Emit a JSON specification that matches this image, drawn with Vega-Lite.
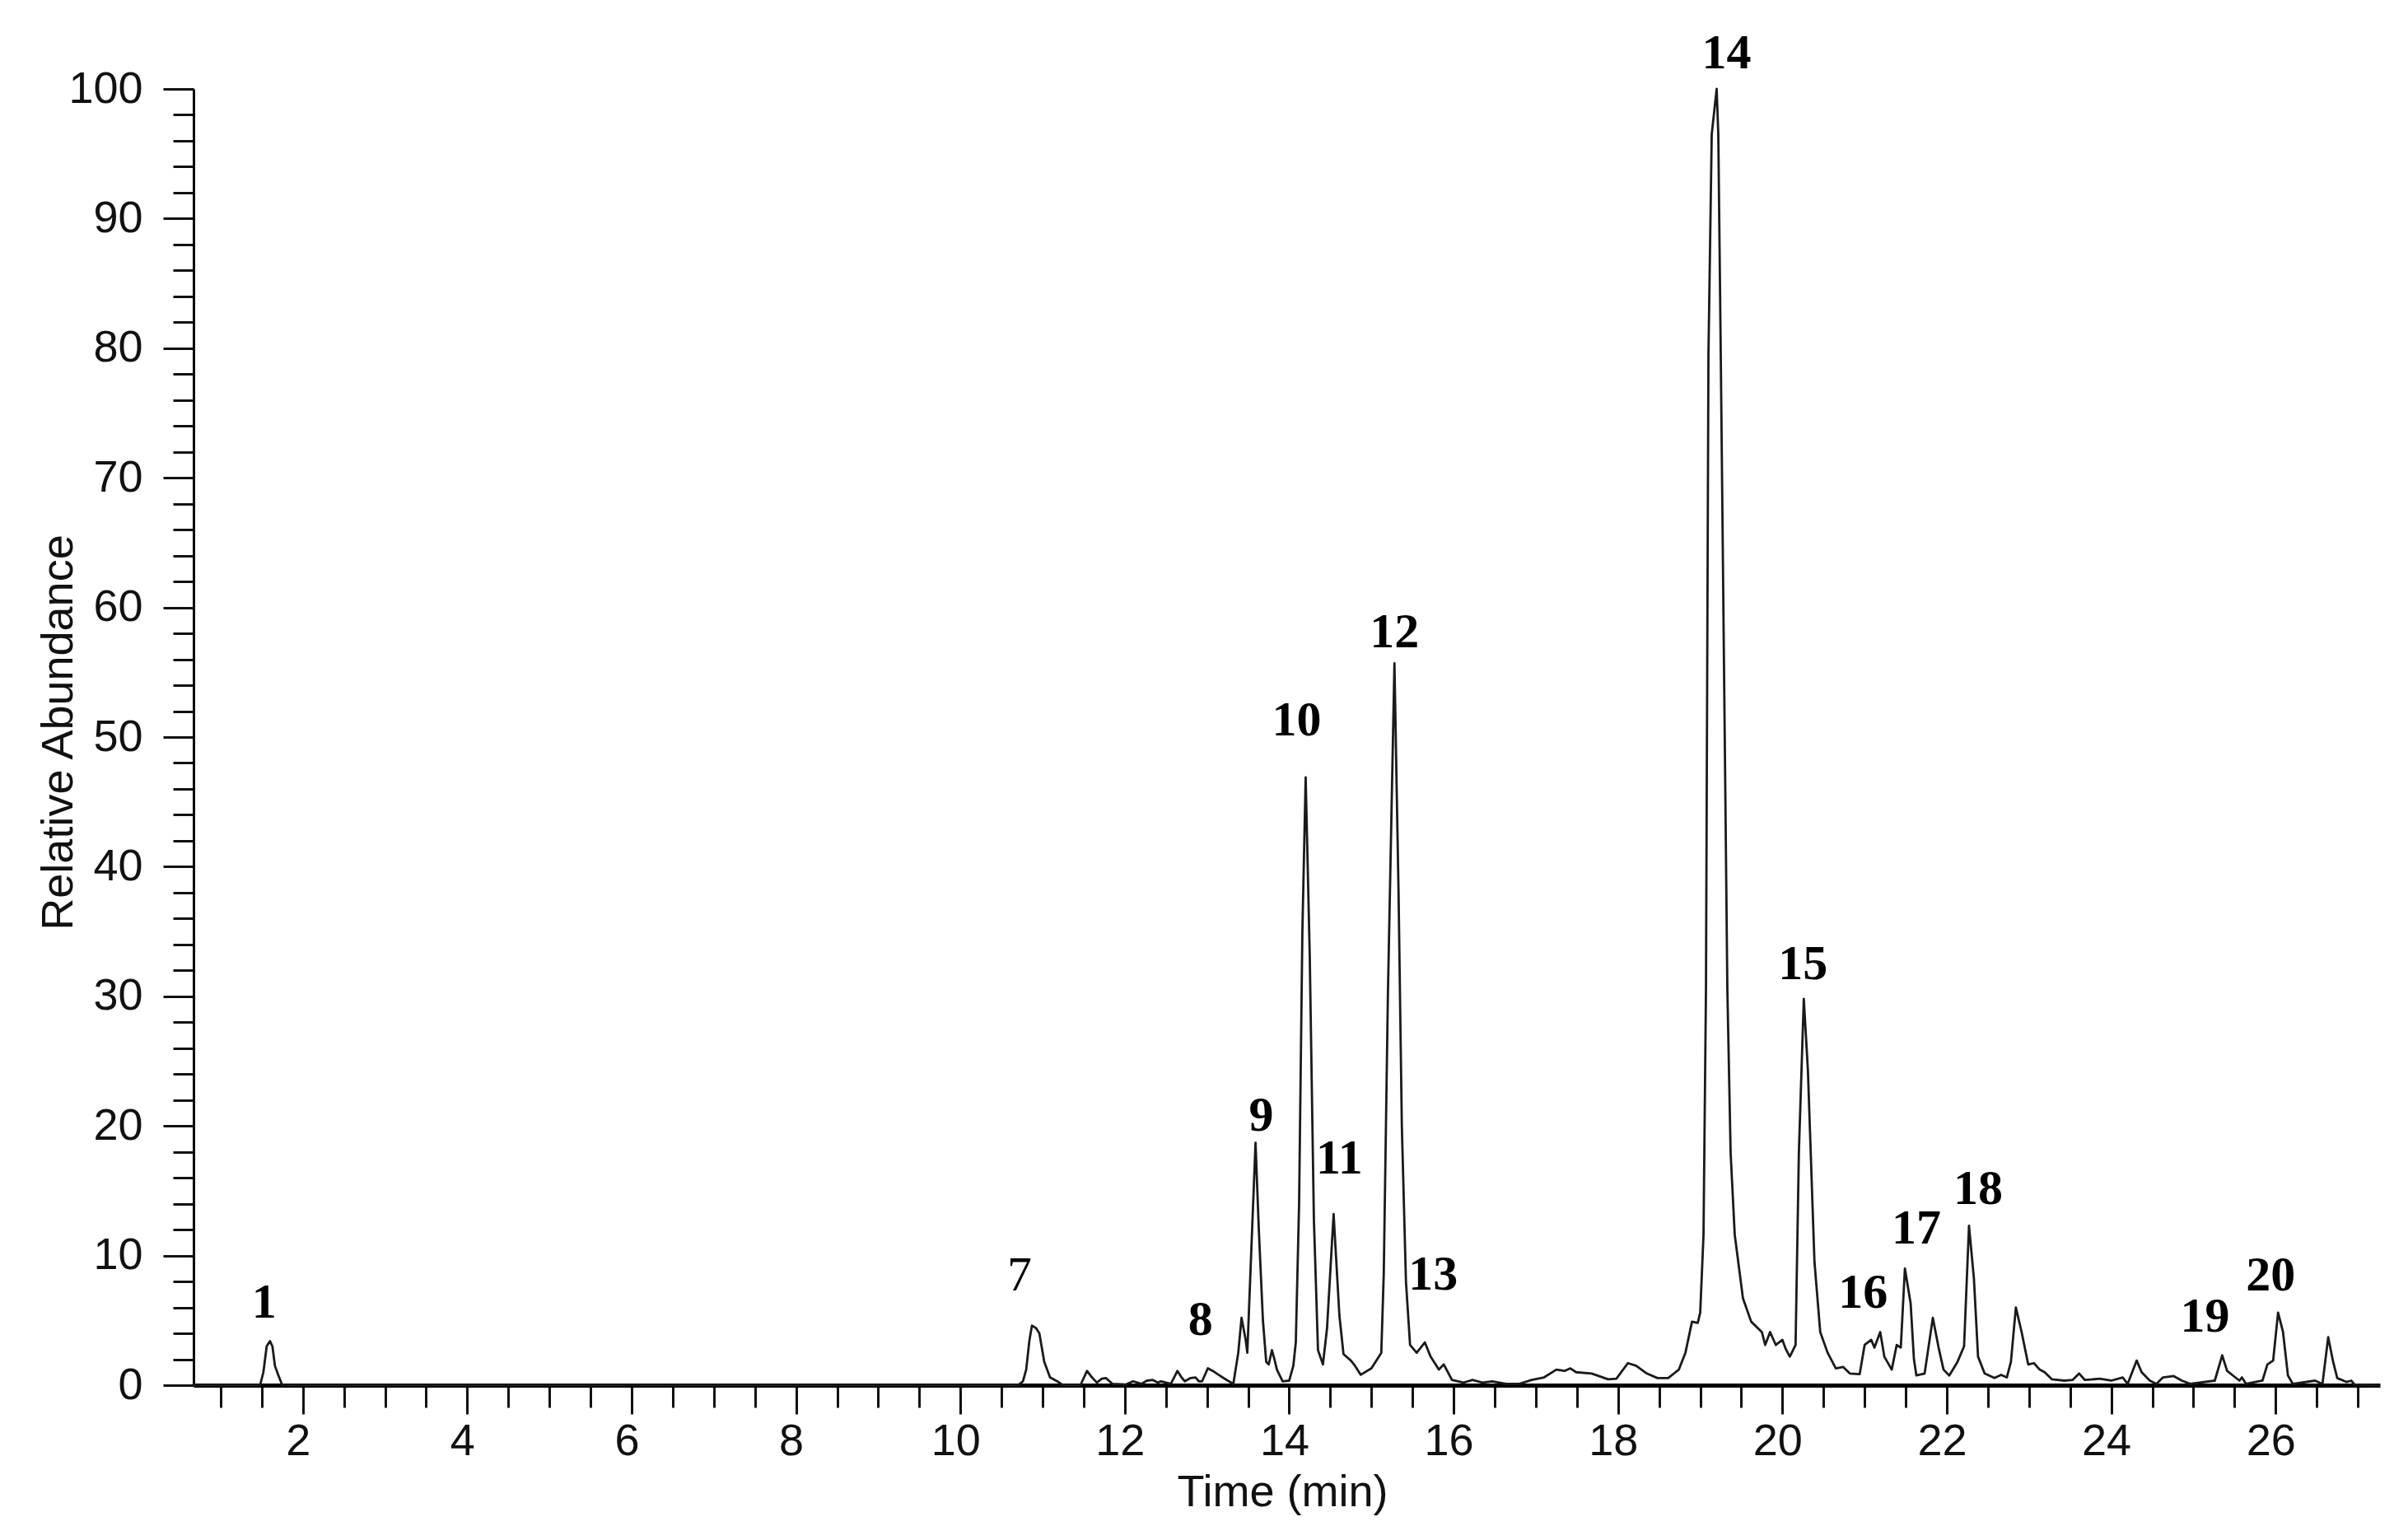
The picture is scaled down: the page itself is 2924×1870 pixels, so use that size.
{
  "$schema": "https://vega.github.io/schema/vega-lite/v6.json",
  "width": 2655,
  "height": 1574,
  "autosize": {"type": "none"},
  "padding": {"left": 235, "top": 108, "right": 34, "bottom": 188},
  "background": "white",
  "config": {"view": {"stroke": null}},
  "datasets": {
    "trace": [
      {"t": 0.67, "v": 0}, {"t": 1.48, "v": 0}, {"t": 1.52, "v": 1.0}, {"t": 1.56, "v": 3.0}, {"t": 1.60, "v": 3.4}, {"t": 1.63, "v": 3.0}, {"t": 1.66, "v": 1.5}, {"t": 1.70, "v": 0.8}, {"t": 1.75, "v": 0},
      {"t": 10.70, "v": 0}, {"t": 10.76, "v": 0.3}, {"t": 10.80, "v": 1.2}, {"t": 10.84, "v": 3.5}, {"t": 10.87, "v": 4.6}, {"t": 10.92, "v": 4.4}, {"t": 10.96, "v": 4.0}, {"t": 11.02, "v": 1.8}, {"t": 11.09, "v": 0.6}, {"t": 11.19, "v": 0.25}, {"t": 11.25, "v": 0},
      {"t": 11.46, "v": 0}, {"t": 11.54, "v": 1.1}, {"t": 11.60, "v": 0.6}, {"t": 11.66, "v": 0.2}, {"t": 11.72, "v": 0.5}, {"t": 11.77, "v": 0.55}, {"t": 11.85, "v": 0.1}, {"t": 12.01, "v": 0.05}, {"t": 12.10, "v": 0.3}, {"t": 12.20, "v": 0.1}, {"t": 12.27, "v": 0.35}, {"t": 12.34, "v": 0.4}, {"t": 12.40, "v": 0.2}, {"t": 12.44, "v": 0.3}, {"t": 12.56, "v": 0.1},
      {"t": 12.64, "v": 1.1}, {"t": 12.69, "v": 0.6}, {"t": 12.73, "v": 0.3}, {"t": 12.80, "v": 0.55}, {"t": 12.86, "v": 0.6}, {"t": 12.90, "v": 0.3}, {"t": 12.94, "v": 0.3}, {"t": 13.01, "v": 1.3}, {"t": 13.07, "v": 1.1}, {"t": 13.14, "v": 0.8}, {"t": 13.24, "v": 0.4}, {"t": 13.32, "v": 0.1},
      {"t": 13.38, "v": 2.5}, {"t": 13.42, "v": 5.2}, {"t": 13.47, "v": 3.5}, {"t": 13.49, "v": 2.5}, {"t": 13.53, "v": 9.0}, {"t": 13.59, "v": 18.7}, {"t": 13.63, "v": 12}, {"t": 13.68, "v": 5}, {"t": 13.72, "v": 1.8}, {"t": 13.75, "v": 1.6}, {"t": 13.79, "v": 2.7}, {"t": 13.82, "v": 2.0}, {"t": 13.85, "v": 1.2}, {"t": 13.92, "v": 0.3}, {"t": 14.00, "v": 0.35},
      {"t": 14.05, "v": 1.5}, {"t": 14.08, "v": 3.3}, {"t": 14.12, "v": 14}, {"t": 14.16, "v": 35}, {"t": 14.20, "v": 46.9}, {"t": 14.25, "v": 33}, {"t": 14.30, "v": 12.8}, {"t": 14.35, "v": 2.7}, {"t": 14.41, "v": 1.6}, {"t": 14.46, "v": 4.4}, {"t": 14.54, "v": 13.2}, {"t": 14.61, "v": 5.4}, {"t": 14.66, "v": 2.4}, {"t": 14.75, "v": 1.9}, {"t": 14.80, "v": 1.5}, {"t": 14.87, "v": 0.8}, {"t": 15.00, "v": 1.3}, {"t": 15.12, "v": 2.5},
      {"t": 15.15, "v": 8.6}, {"t": 15.20, "v": 30}, {"t": 15.28, "v": 55.7}, {"t": 15.33, "v": 38}, {"t": 15.37, "v": 20}, {"t": 15.42, "v": 8}, {"t": 15.47, "v": 3.1}, {"t": 15.55, "v": 2.5}, {"t": 15.65, "v": 3.3}, {"t": 15.72, "v": 2.2}, {"t": 15.82, "v": 1.2}, {"t": 15.88, "v": 1.6}, {"t": 15.98, "v": 0.4}, {"t": 16.12, "v": 0.2}, {"t": 16.23, "v": 0.4}, {"t": 16.35, "v": 0.2}, {"t": 16.47, "v": 0.3}, {"t": 16.64, "v": 0.1}, {"t": 16.80, "v": 0.1}, {"t": 16.95, "v": 0.4}, {"t": 17.10, "v": 0.6}, {"t": 17.25, "v": 1.2},
      {"t": 17.35, "v": 1.1}, {"t": 17.42, "v": 1.3}, {"t": 17.49, "v": 1.0}, {"t": 17.68, "v": 0.9}, {"t": 17.88, "v": 0.45}, {"t": 17.98, "v": 0.5}, {"t": 18.12, "v": 1.7}, {"t": 18.22, "v": 1.5}, {"t": 18.35, "v": 0.9}, {"t": 18.48, "v": 0.55}, {"t": 18.61, "v": 0.55}, {"t": 18.74, "v": 1.2}, {"t": 18.82, "v": 2.5}, {"t": 18.90, "v": 4.9}, {"t": 18.97, "v": 4.8}, {"t": 19.00, "v": 5.6}, {"t": 19.04, "v": 11.6},
      {"t": 19.07, "v": 30.6}, {"t": 19.10, "v": 79.5}, {"t": 19.14, "v": 96.5}, {"t": 19.20, "v": 100}, {"t": 19.22, "v": 96.5}, {"t": 19.25, "v": 79.5}, {"t": 19.33, "v": 30.6}, {"t": 19.37, "v": 17.9}, {"t": 19.42, "v": 11.6}, {"t": 19.52, "v": 6.7}, {"t": 19.62, "v": 4.9}, {"t": 19.75, "v": 4.1}, {"t": 19.79, "v": 3.1}, {"t": 19.85, "v": 4.1}, {"t": 19.92, "v": 3.1}, {"t": 20.00, "v": 3.5}, {"t": 20.04, "v": 2.8}, {"t": 20.09, "v": 2.2}, {"t": 20.16, "v": 3.1},
      {"t": 20.20, "v": 17.9}, {"t": 20.26, "v": 29.8}, {"t": 20.31, "v": 24.3}, {"t": 20.39, "v": 9.5}, {"t": 20.46, "v": 4.1}, {"t": 20.55, "v": 2.5}, {"t": 20.65, "v": 1.3}, {"t": 20.74, "v": 1.4}, {"t": 20.82, "v": 0.9}, {"t": 20.94, "v": 0.85}, {"t": 21.00, "v": 3.1}, {"t": 21.08, "v": 3.5}, {"t": 21.12, "v": 2.9}, {"t": 21.19, "v": 4.1}, {"t": 21.24, "v": 2.2}, {"t": 21.33, "v": 1.2}, {"t": 21.39, "v": 3.1}, {"t": 21.44, "v": 2.9},
      {"t": 21.49, "v": 9.0}, {"t": 21.56, "v": 6.3}, {"t": 21.60, "v": 2.0}, {"t": 21.63, "v": 0.75}, {"t": 21.73, "v": 0.9}, {"t": 21.83, "v": 5.2}, {"t": 21.90, "v": 2.9}, {"t": 21.96, "v": 1.2}, {"t": 22.03, "v": 0.75}, {"t": 22.13, "v": 1.8}, {"t": 22.21, "v": 3.0}, {"t": 22.27, "v": 12.3}, {"t": 22.33, "v": 8.2}, {"t": 22.38, "v": 2.2}, {"t": 22.46, "v": 0.9}, {"t": 22.58, "v": 0.55}, {"t": 22.66, "v": 0.8}, {"t": 22.73, "v": 0.6},
      {"t": 22.78, "v": 1.8}, {"t": 22.84, "v": 6.0}, {"t": 22.91, "v": 4.1}, {"t": 22.99, "v": 1.6}, {"t": 23.06, "v": 1.7}, {"t": 23.13, "v": 1.2}, {"t": 23.19, "v": 1.0}, {"t": 23.28, "v": 0.45}, {"t": 23.43, "v": 0.35}, {"t": 23.53, "v": 0.4}, {"t": 23.61, "v": 0.9}, {"t": 23.68, "v": 0.4}, {"t": 23.86, "v": 0.5}, {"t": 24.00, "v": 0.35}, {"t": 24.14, "v": 0.6}, {"t": 24.20, "v": 0.1}, {"t": 24.31, "v": 1.9}, {"t": 24.37, "v": 1.0}, {"t": 24.47, "v": 0.35}, {"t": 24.55, "v": 0.1},
      {"t": 24.63, "v": 0.6}, {"t": 24.76, "v": 0.7}, {"t": 24.86, "v": 0.35}, {"t": 24.96, "v": 0.1}, {"t": 25.26, "v": 0.35}, {"t": 25.35, "v": 2.3}, {"t": 25.41, "v": 1.1}, {"t": 25.49, "v": 0.7}, {"t": 25.56, "v": 0.35}, {"t": 25.59, "v": 0.6}, {"t": 25.64, "v": 0.1}, {"t": 25.84, "v": 0.35}, {"t": 25.90, "v": 1.6}, {"t": 25.97, "v": 1.9}, {"t": 26.03, "v": 5.6}, {"t": 26.09, "v": 4.1}, {"t": 26.15, "v": 0.75}, {"t": 26.21, "v": 0.1},
      {"t": 26.48, "v": 0.35}, {"t": 26.57, "v": 0.1}, {"t": 26.64, "v": 3.7}, {"t": 26.70, "v": 1.8}, {"t": 26.75, "v": 0.55}, {"t": 26.86, "v": 0.25}, {"t": 26.92, "v": 0.35}, {"t": 26.96, "v": 0.05}, {"t": 27.27, "v": 0}
    ],
    "boldLabels": [
      {"t": 1.53, "v": 5.2, "label": "1"},
      {"t": 12.92, "v": 3.9, "label": "8"},
      {"t": 13.66, "v": 19.6, "label": "9"},
      {"t": 14.09, "v": 50.1, "label": "10"},
      {"t": 14.61, "v": 16.3, "label": "11"},
      {"t": 15.28, "v": 56.9, "label": "12"},
      {"t": 15.75, "v": 7.4, "label": "13"},
      {"t": 19.32, "v": 101.6, "label": "14"},
      {"t": 20.25, "v": 31.3, "label": "15"},
      {"t": 20.98, "v": 6.0, "label": "16"},
      {"t": 21.63, "v": 10.9, "label": "17"},
      {"t": 22.38, "v": 14.0, "label": "18"},
      {"t": 25.14, "v": 4.1, "label": "19"},
      {"t": 25.94, "v": 7.3, "label": "20"}
    ],
    "plainLabels": [
      {"t": 10.72, "v": 7.3, "label": "7"}
    ]
  },
  "encoding": {
    "x": {
      "field": "t", "type": "quantitative",
      "scale": {"domain": [0.67, 27.27], "nice": false, "zero": false},
      "axis": {
        "title": "Time (min)",
        "titleFont": "Liberation Sans", "titleFontSize": 54, "titleFontWeight": "normal", "titleColor": "#111111",
        "titleX": 1322, "titleY": 130, "titleBaseline": "middle", "titleAlign": "center",
        "values": [1, 1.5, 2, 2.5, 3, 3.5, 4, 4.5, 5, 5.5, 6, 6.5, 7, 7.5, 8, 8.5, 9, 9.5, 10, 10.5, 11, 11.5, 12, 12.5, 13, 13.5, 14, 14.5, 15, 15.5, 16, 16.5, 17, 17.5, 18, 18.5, 19, 19.5, 20, 20.5, 21, 21.5, 22, 22.5, 23, 23.5, 24, 24.5, 25, 25.5, 26, 26.5, 27],
        "format": "~g",
        "labelExpr": "datum.value % 2 === 0 ? datum.label : ''",
        "labelFont": "Liberation Sans", "labelFontSize": 54, "labelColor": "#111111",
        "labelPadding": 6, "labelOffset": -6, "labelFlush": false, "labelOverlap": false,
        "tickSize": {"condition": {"test": "datum.value % 2 === 0", "value": 35}, "value": 27},
        "tickWidth": 3, "tickColor": "#111111",
        "domainWidth": 5, "domainColor": "#000000",
        "grid": false
      }
    },
    "y": {
      "field": "v", "type": "quantitative",
      "scale": {"domain": [0, 100], "nice": false},
      "axis": {
        "title": "Relative Abundance",
        "titleFont": "Liberation Sans", "titleFontSize": 54, "titleFontWeight": "normal", "titleColor": "#111111",
        "titleAngle": -90, "titleX": -164, "titleY": 781, "titleBaseline": "middle", "titleAlign": "center",
        "values": [0, 2, 4, 6, 8, 10, 12, 14, 16, 18, 20, 22, 24, 26, 28, 30, 32, 34, 36, 38, 40, 42, 44, 46, 48, 50, 52, 54, 56, 58, 60, 62, 64, 66, 68, 70, 72, 74, 76, 78, 80, 82, 84, 86, 88, 90, 92, 94, 96, 98, 100],
        "labelExpr": "datum.value % 10 === 0 ? datum.label : ''",
        "labelFont": "Liberation Sans", "labelFontSize": 54, "labelColor": "#111111",
        "labelPadding": 25, "labelFlush": false, "labelOverlap": false,
        "tickSize": {"condition": {"test": "datum.value % 10 === 0", "value": 37}, "value": 25},
        "tickWidth": 3, "tickColor": "#111111",
        "domainWidth": 3, "domainColor": "#000000",
        "grid": false
      }
    }
  },
  "layer": [
    {
      "data": {"name": "trace"},
      "mark": {"type": "line", "color": "#1a1a1a", "strokeWidth": 2.8, "interpolate": "linear", "strokeJoin": "round"}
    },
    {
      "data": {"name": "boldLabels"},
      "mark": {"type": "text", "font": "Liberation Serif", "fontSize": 60, "fontWeight": "bold", "align": "center", "baseline": "alphabetic", "color": "#000000"},
      "encoding": {"text": {"field": "label"}}
    },
    {
      "data": {"name": "plainLabels"},
      "mark": {"type": "text", "font": "Liberation Serif", "fontSize": 60, "fontWeight": "normal", "align": "center", "baseline": "alphabetic", "color": "#000000"},
      "encoding": {"text": {"field": "label"}}
    }
  ]
}
